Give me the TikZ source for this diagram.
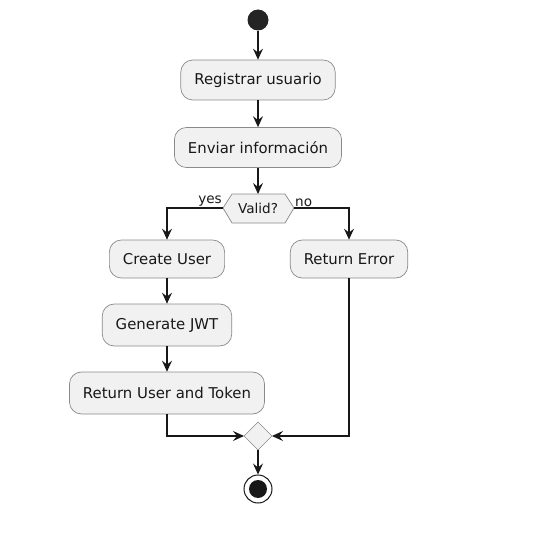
\documentclass[tikz,border=0pt]{standalone}
\usepackage{fontspec}
\setmainfont{DejaVu Sans}
\usetikzlibrary{arrows.meta}
\definecolor{actfill}{HTML}{F1F1F1}
\definecolor{actline}{HTML}{181818}
\definecolor{actborder}{HTML}{8A8A8A}
\begin{document}
\begin{tikzpicture}[x=1pt,y=-1pt,
  act/.style={draw=actborder, fill=actfill, rounded corners=12pt, line width=0.7pt,
    minimum height=40pt, inner xsep=13.5pt, font=\fontsize{14.9}{17}\selectfont, text=actline},
  flow/.style={draw=actline, line width=1.1pt, -{Stealth[length=11pt,width=10pt,inset=4pt]}},
  lbl/.style={font=\fontsize{13.6}{15}\selectfont, text=actline, inner sep=1pt}]
\useasboundingbox (0,0) rectangle (547,543);
% start
\node[circle, fill=actline!95!white, minimum size=21pt, inner sep=0pt] (start) at (258,20) {};
\node[act] (reg) at (258,80) {Registrar usuario};
\node[act] (env) at (258,147.5) {Enviar información};
% decision hexagon
\coordinate (dL) at (223,208);
\coordinate (dR) at (294,208);
\coordinate (dT) at (258,194);
\coordinate (dB) at (258,223);
\filldraw[fill=actfill, draw=actborder, line width=0.7pt]
  (223,208) -- (232,194) -- (285,194) -- (294,208) -- (285,223) -- (232,223) -- cycle;
\node[lbl] (dec) at (258,208.5) {Valid?};
\node[lbl, anchor=south east] (yes) at (223,208) {yes};
\node[lbl, anchor=south west] (no) at (294,208) {no};
% branches
\node[act, minimum height=38pt] (cu) at (167,259) {Create User};
\node[act, minimum height=38pt] (re) at (349,259) {Return Error};
\node[act, minimum height=42pt] (jwt) at (167,325) {Generate JWT};
\node[act, minimum height=42pt] (rut) at (167,393) {Return User and Token};
% merge diamond
\coordinate (mL) at (244,436);
\coordinate (mR) at (272,436);
\coordinate (mT) at (258,422);
\coordinate (mB) at (258,450);
\filldraw[fill=actfill, draw=actborder, line width=0.7pt] (mL) -- (mT) -- (mR) -- (mB) -- cycle;
% end
\node[circle, draw=actline, fill=white, line width=1pt, minimum size=28pt, inner sep=0pt] (endo) at (258,489) {};
\node[circle, fill=actline, minimum size=18pt, inner sep=0pt] (endi) at (258,489) {};
% connectors
\draw[flow] (start) -- (reg);
\draw[flow] (reg) -- (env);
\draw[flow] (env) -- (dT);
\draw[flow] (dL) -| (cu.north);
\draw[flow] (dR) -| (re.north);
\draw[flow] (cu) -- (jwt);
\draw[flow] (jwt) -- (rut);
\draw[flow] (rut.south) |- (mL);
\draw[flow] (re.south) |- (mR);
\draw[flow] (mB) -- (endo);
\end{tikzpicture}
\end{document}
